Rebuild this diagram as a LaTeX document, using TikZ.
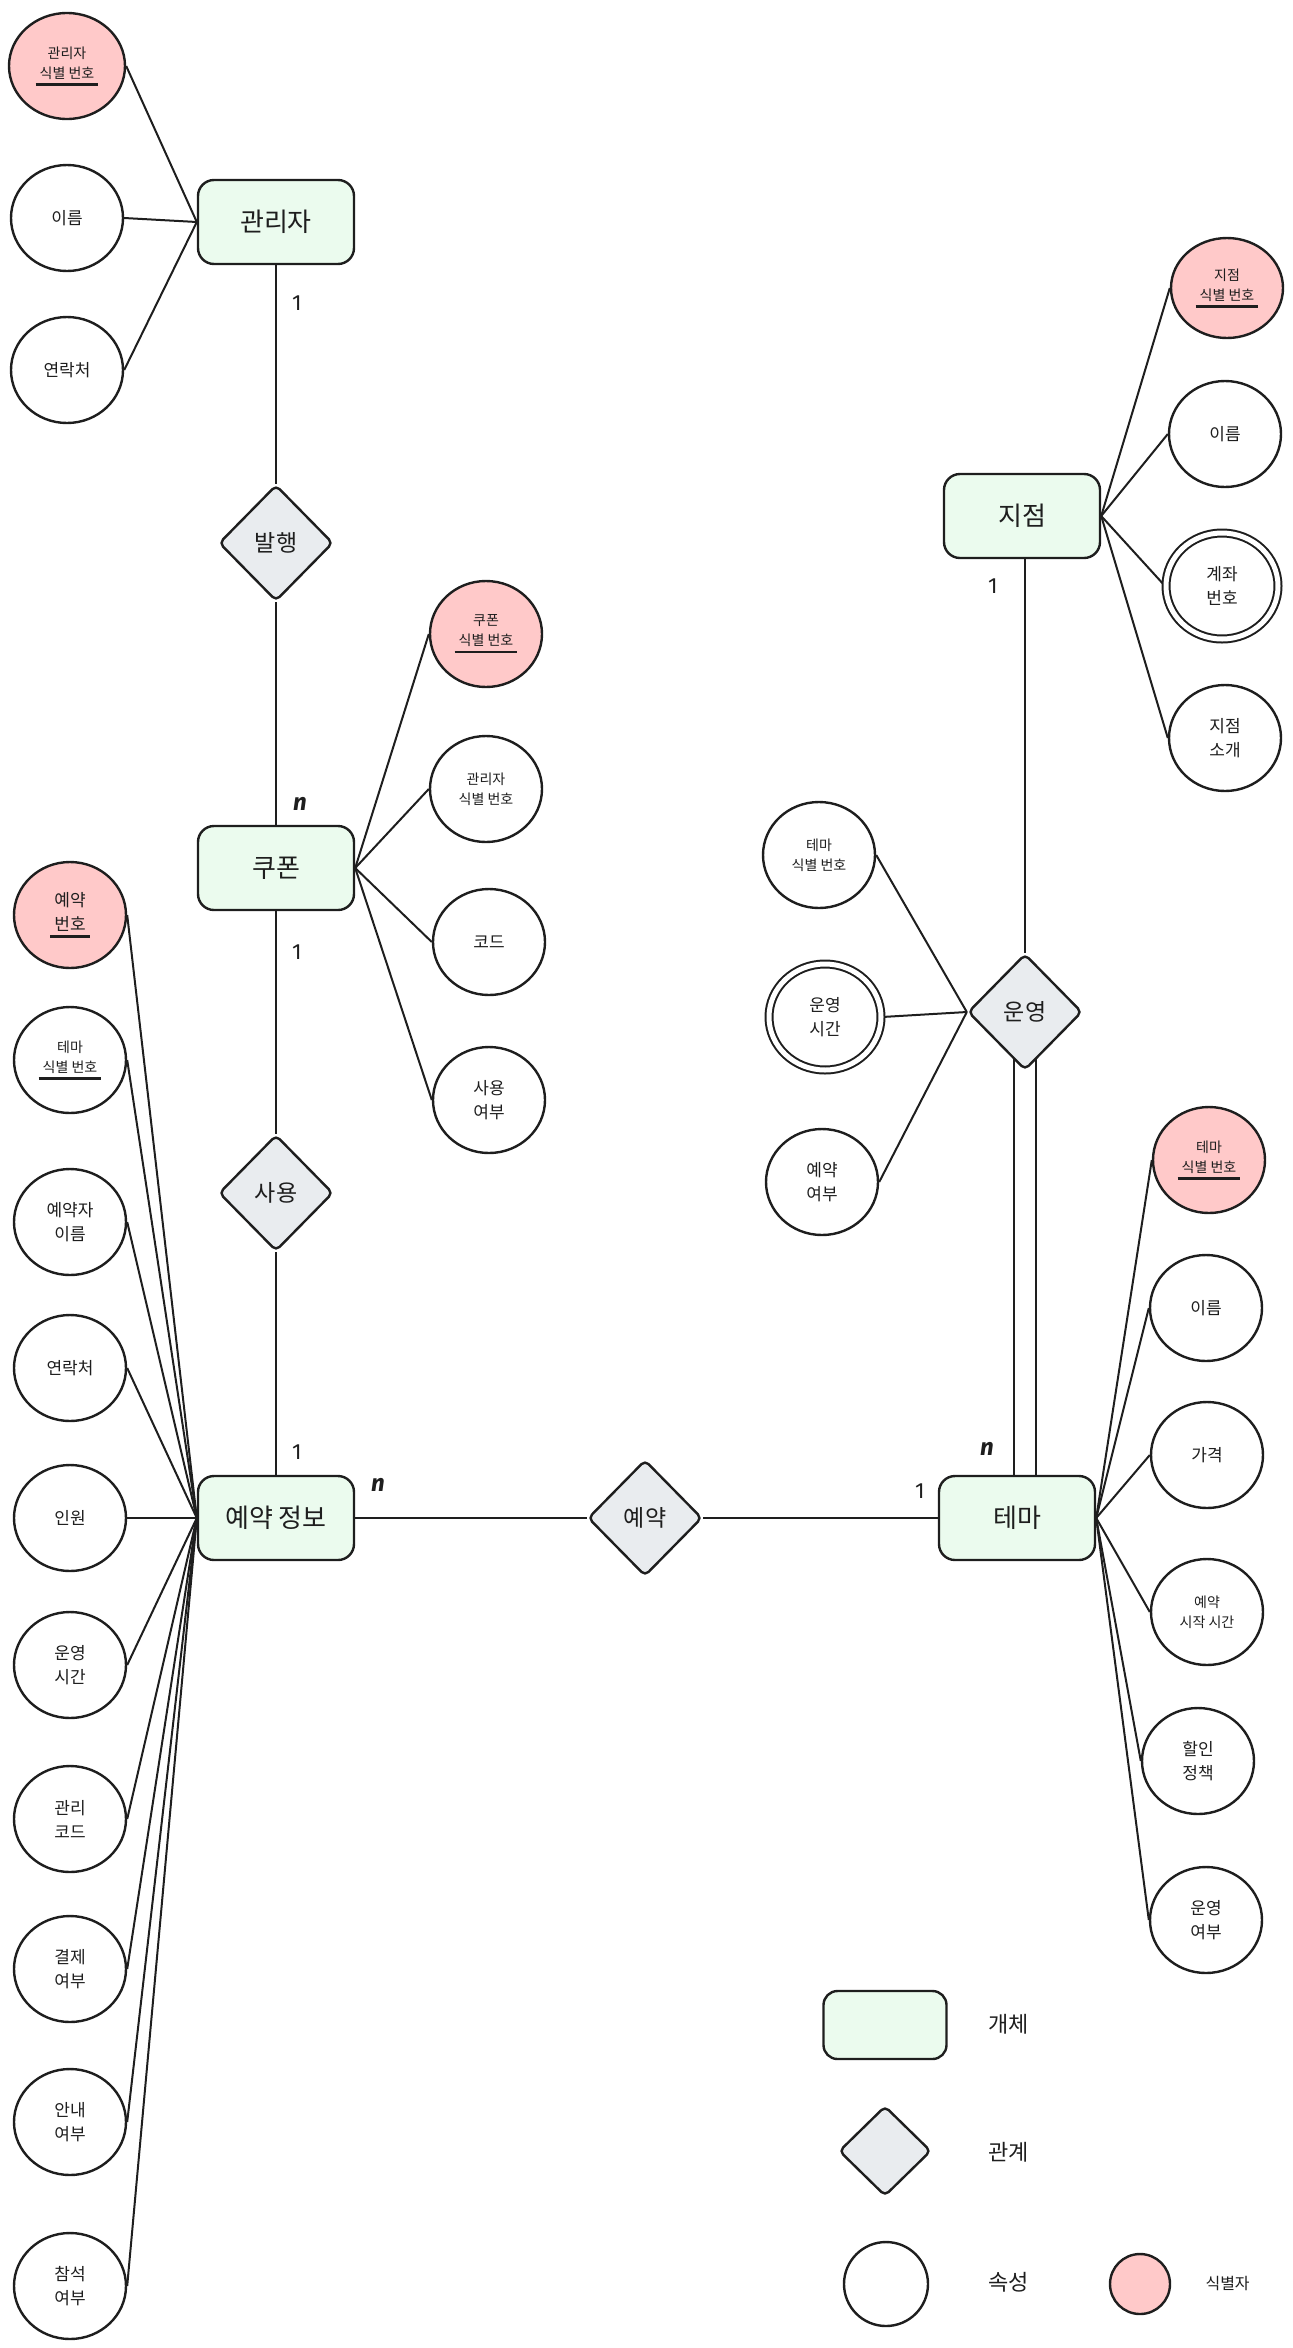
\documentclass[tikz,border=0pt]{standalone}
\usepackage{fontspec}
\setmainfont{Noto Sans CJK KR}
\newfontfamily\handfont{Fira Sans}
\usetikzlibrary{shapes.geometric,backgrounds}
\definecolor{ink}{HTML}{1E1E1E}
\definecolor{entfill}{HTML}{EBFBEE}
\definecolor{relfill}{HTML}{E9ECEF}
\definecolor{idfill}{HTML}{FFC9C9}
\newcommand\ulid[1]{\leavevmode\setbox0=\hbox{#1}\vtop{\hbox{\copy0}\nointerlineskip\kern4pt\hbox to\wd0{\hss\rule{\dimexpr\wd0+8pt\relax}{2.4pt}\hss}}}
\begin{document}
\begin{tikzpicture}[x=1pt,y=-1pt,
 ent/.style={draw=ink, line width=2.4pt, fill=entfill, rounded corners=16pt, minimum width=156pt, minimum height=84pt, inner sep=0pt, font=\fontsize{26}{30}\selectfont, text=ink},
 rel/.style={diamond, draw=ink, line width=2.4pt, fill=relfill, rounded corners=5pt, minimum width=114pt, minimum height=116pt, inner sep=0pt, font=\fontsize{23}{28}\selectfont, text=ink},
 attr/.style={ellipse, draw=ink, line width=2.4pt, fill=white, minimum width=112pt, minimum height=106pt, inner sep=0pt, align=center, font=\fontsize{17}{24}\selectfont, text=ink},
 sm/.style={font=\fontsize{14}{20}\selectfont},
 idattr/.style={attr, fill=idfill},
 dbl/.style={double=white, double distance=5pt, line width=2pt},
 conn/.style={draw=ink, line width=2pt},
 card/.style={font=\handfont\fontsize{22}{26}\selectfont, text=ink},
 cardn/.style={font=\handfont\bfseries\itshape\fontsize{24}{26}\selectfont, text=ink},
 leg/.style={font=\fontsize{22}{26}\selectfont, text=ink},
]
\useasboundingbox (0,0) rectangle (1293,2348);

% entities
\node[ent] (admin) at (276,222) {관리자};
\node[ent] (coupon) at (276,868) {쿠폰};
\node[ent] (rinfo) at (276,1518) {예약 정보};
\node[ent] (thema) at (1017,1518) {테마};
\node[ent] (jijeom) at (1022,516) {지점};

% relationships
\node[rel] (balhaeng) at (276,543) {발행};
\node[rel] (sayong) at (276,1193) {사용};
\node[rel] (yeyak) at (645,1518) {예약};
\node[rel] (unyeong) at (1025,1012) {운영};

% admin attributes
\node[idattr, sm, minimum width=116pt] (adminid) at (67,66) {관리자\\\ulid{식별 번호}};
\node[attr] (adminname) at (67,218) {이름};
\node[attr] (admintel) at (67,370) {연락처};

% coupon attributes
\node[idattr, sm] (cpid) at (486,634) {쿠폰\\\ulid{식별 번호}};
\node[attr, sm] (cpadmin) at (486,789) {관리자\\식별 번호};
\node[attr] (cpcode) at (489,942) {코드};
\node[attr] (cpused) at (489,1100) {사용\\여부};

% branch attributes
\node[idattr, sm, minimum height=100pt] (jid) at (1227,288) {지점\\\ulid{식별 번호}};
\node[attr] (jname) at (1225,434) {이름};
\node[attr, dbl] (jacct) at (1222,586) {계좌\\번호};
\node[attr] (jintro) at (1225,738) {지점\\소개};

% operation attributes
\node[attr, sm] (uthid) at (819,855) {테마\\식별 번호};
\node[attr, dbl] (utime) at (825,1017) {운영\\시간};
\node[attr] (uresv) at (822,1182) {예약\\여부};

% theme attributes
\node[idattr, sm] (tid) at (1209,1160) {테마\\\ulid{식별 번호}};
\node[attr] (tname) at (1206,1308) {이름};
\node[attr] (tprice) at (1207,1455) {가격};
\node[attr, sm] (tstart) at (1207,1612) {예약\\시작 시간};
\node[attr] (tdisc) at (1198,1761) {할인\\정책};
\node[attr] (toper) at (1206,1920) {운영\\여부};

% reservation info attributes
\node[idattr] (rno) at (70,915) {예약\\\ulid{번호}};
\node[attr, sm] (rthid) at (70,1060) {테마\\\ulid{식별 번호}};
\node[attr] (rname) at (70,1222) {예약자\\이름};
\node[attr] (rtel) at (70,1368) {연락처};
\node[attr] (rpeople) at (70,1518) {인원};
\node[attr] (rtime) at (70,1665) {운영\\시간};
\node[attr] (rcode) at (70,1819) {관리\\코드};
\node[attr] (rpay) at (70,1969) {결제\\여부};
\node[attr] (rguide) at (70,2122) {안내\\여부};
\node[attr] (rattend) at (70,2286) {참석\\여부};

% cardinalities
\node[card] (c1) at (297,303) {1};
\node[cardn] (c2) at (300,804) {n};
\node[card] (c3) at (297,952) {1};
\node[card] (c4) at (297,1452) {1};
\node[cardn] (c5) at (378,1485) {n};
\node[card] (c6) at (920,1491) {1};
\node[cardn] (c7) at (987,1449) {n};
\node[card] (c8) at (993,586) {1};

% legend
\node[ent, minimum width=123pt, minimum height=68pt, rounded corners=14pt] (legent) at (885,2025) {};
\node[leg, anchor=west] (legentt) at (985,2024) {개체};
\node[rel, minimum width=92pt, minimum height=90pt] (legrel) at (885,2151) {};
\node[leg, anchor=west] (legrelt) at (985,2152) {관계};
\node[attr, minimum width=84pt, minimum height=84pt] (legattr) at (886,2284) {};
\node[leg, anchor=west] (legattrt) at (985,2282) {속성};
\node[idattr, minimum width=60pt, minimum height=60pt] (legid) at (1140,2284) {};
\node[anchor=west, font=\fontsize{16}{20}\selectfont, text=ink] (legidt) at (1202,2283) {식별자};

\begin{scope}[on background layer]
 \draw[conn] (admin) -- (balhaeng) -- (coupon) -- (sayong) -- (rinfo);
 \draw[conn] (rinfo) -- (yeyak) -- (thema);
 \draw[conn] (unyeong) -- (unyeong |- jijeom);
 \draw[conn] ([xshift=-11pt]unyeong.center) -- ([xshift=-11pt]unyeong.center |- thema.center);
 \draw[conn] ([xshift=11pt]unyeong.center) -- ([xshift=11pt]unyeong.center |- thema.center);
 \foreach \a in {adminid,adminname,admintel} \draw[conn] (\a.east) -- (admin.west);
 \foreach \a in {cpid,cpadmin,cpcode,cpused} \draw[conn] (coupon.east) -- (\a.west);
 \foreach \a in {jid,jname,jacct,jintro} \draw[conn] (jijeom.east) -- (\a.west);
 \foreach \a in {uthid,utime,uresv} \draw[conn] (\a.east) -- (unyeong.west);
 \foreach \a in {tid,tname,tprice,tstart,tdisc,toper} \draw[conn] (thema.east) -- (\a.west);
 \foreach \a in {rno,rthid,rname,rtel,rpeople,rtime,rcode,rpay,rguide,rattend} \draw[conn] (\a.east) -- (rinfo.west);
\end{scope}
\end{tikzpicture}
\end{document}
